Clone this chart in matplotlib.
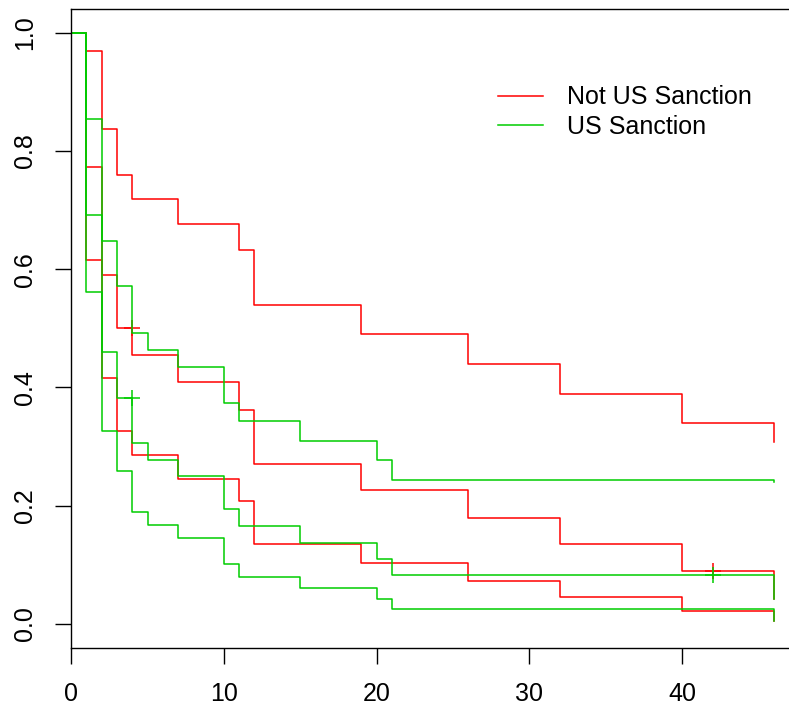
import matplotlib
matplotlib.use("Agg")
import matplotlib.pyplot as plt

plt.rcParams['font.family'] = ['Liberation Sans', 'DejaVu Sans']

# Not US Sanction (red): step times, survival and 95% band
red_t = [0, 1, 2, 3, 4, 7, 11, 12, 19, 26, 32, 40, 46]
red_s = [1.0, 0.772, 0.590, 0.500, 0.455, 0.409, 0.362, 0.271, 0.226, 0.180, 0.135, 0.089, 0.042]
red_up = [1.0, 0.969, 0.837, 0.760, 0.718, 0.676, 0.632, 0.539, 0.491, 0.440, 0.389, 0.340, 0.307]
red_lo = [1.0, 0.615, 0.416, 0.327, 0.286, 0.246, 0.208, 0.136, 0.103, 0.072, 0.045, 0.022, 0.005]
red_cens_t = [4, 42]
red_cens_s = [0.500, 0.089]

# US Sanction (green)
grn_t = [0, 1, 2, 3, 4, 5, 7, 10, 11, 15, 20, 21, 46]
grn_s = [1.0, 0.692, 0.460, 0.383, 0.306, 0.278, 0.250, 0.194, 0.166, 0.137, 0.110, 0.083, 0.042]
grn_up = [1.0, 0.854, 0.647, 0.571, 0.492, 0.463, 0.435, 0.374, 0.343, 0.310, 0.277, 0.244, 0.240]
grn_lo = [1.0, 0.561, 0.327, 0.258, 0.190, 0.167, 0.145, 0.101, 0.080, 0.061, 0.042, 0.026, 0.005]
grn_cens_t = [4, 42]
grn_cens_s = [0.383, 0.083]

labels = ['Not US Sanction', 'US Sanction']
red = '#FF0000'
green = '#00CD00'

fig = plt.figure(figsize=(7.89, 7.06), dpi=100)
ax = fig.add_axes([0.0902, 0.0826, 0.926, 0.9047])

lw = 1.1
ax.step(red_t, red_s, where='post', color=red, lw=lw, label=labels[0])
ax.step(red_t, red_up, where='post', color=red, lw=lw)
ax.step(red_t, red_lo, where='post', color=red, lw=lw)
ax.plot(red_cens_t, red_cens_s, ls='none', marker='+', ms=12, mew=lw, color=red)

ax.step(grn_t, grn_s, where='post', color=green, lw=lw, label=labels[1])
ax.step(grn_t, grn_up, where='post', color=green, lw=lw)
ax.step(grn_t, grn_lo, where='post', color=green, lw=lw)
ax.plot(grn_cens_t, grn_cens_s, ls='none', marker='+', ms=12, mew=lw, color=green)

ax.set_xlim(0, 47.84)
ax.set_ylim(-0.04, 1.04)
ax.set_xticks([0, 10, 20, 30, 40])
ax.set_yticks([0.0, 0.2, 0.4, 0.6, 0.8, 1.0])
ax.set_yticklabels(['0.0', '0.2', '0.4', '0.6', '0.8', '1.0'])

for s in ax.spines.values():
    s.set_linewidth(1.0)
ax.tick_params(axis='both', length=11.5, width=1.0, labelsize=18)
ax.tick_params(axis='x', pad=13)
ax.tick_params(axis='y', pad=13, labelrotation=90)
for t in ax.get_yticklabels():
    t.set_va('center')

ax.legend(loc='upper left', bbox_to_anchor=(0.570, 0.896), frameon=False,
          fontsize=18, handlelength=1.83, handletextpad=0.95, labelspacing=0.22,
          borderaxespad=0)

fig.savefig('out.png', dpi=100)
